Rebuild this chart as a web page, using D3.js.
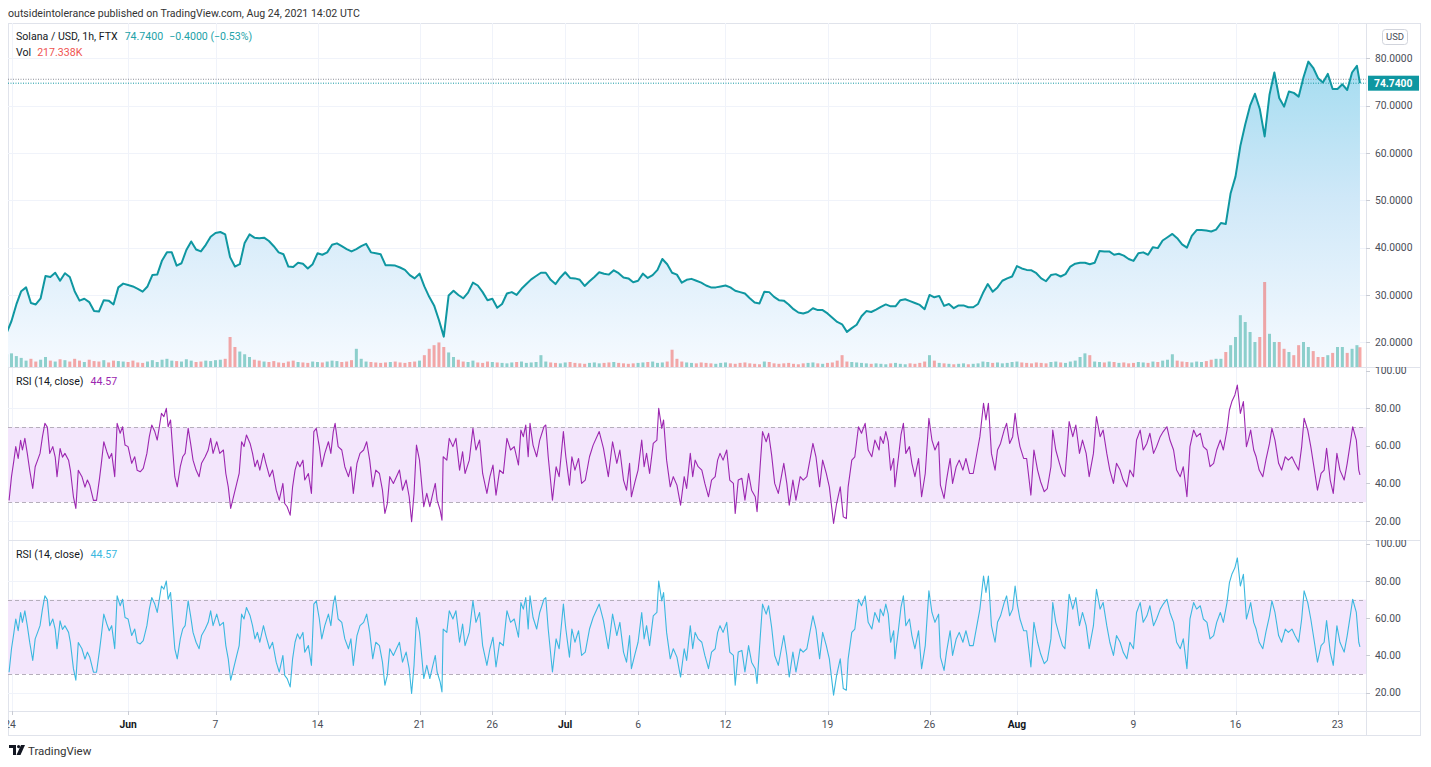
<!DOCTYPE html>
<html><head><meta charset="utf-8">
<script src="https://cdn.jsdelivr.net/npm/d3@7"></script>
<style>
html,body{margin:0;padding:0;background:#fff;}
svg{display:block;font-family:Roboto,"Liberation Sans",Arial,sans-serif;}
</style></head><body>
<svg id="chart" width="1431" height="767"></svg>
<script>
// ---------- DATA ----------
const priceStart = "2021-05-23T16:00:00Z";   // first 8-hour sample
const priceStepHours = 8;
const priceValues = [
 22,24.5,28,30.8,31.6,28.3,28,29.3,34,33.8,
 34.7,33,34.6,33.8,30.8,28.8,29.2,28.5,26.6,26.5,
 28.9,28.8,28,31.6,32.4,32.1,31.8,31.3,30.7,31.8,
 34.2,34.3,37.3,39,39,36.2,36.7,39.5,41.3,39.6,
 39.2,40.6,42.3,43.1,43.3,42.8,38,36,36.5,41,
 42.8,42.1,42,42.1,41.4,40.3,39,38.6,36,35.9,
 36.8,36.6,35.6,36.5,38.8,38.5,39,40.6,40.9,40.3,
 39.7,39.2,39.7,40.3,40.8,39,38.8,38.6,36.3,36.3,
 36.2,35.8,35.3,34.2,33.5,34.5,31.8,29.6,27.8,24.7,
 21.2,29.9,30.9,30,29.3,30.5,32.6,32,30.6,28.9,
 29.2,27.3,28.1,30.3,30.6,30,31.3,32.3,33.3,34,
 34.7,34.7,33.2,32.3,33.7,34.8,33.6,33.5,33.2,31.9,
 32.9,33.8,34.8,34.5,34.3,35.2,34.6,33.7,33.5,32.7,
 33,34.5,33.6,34.2,35.3,37.6,36.5,34.7,34.3,32.6,
 33.2,33.4,33,32.6,32,31.6,31.6,31.8,32,31.6,
 30.9,30.6,30.3,29.3,28.4,28.2,30.7,30.6,29.6,28.9,
 28.8,28,27,26.3,26.1,26.4,27.2,26.8,26.8,26.1,
 25.2,24.3,23.8,22.2,23,23.7,25.5,26.6,26.4,26.9,
 27.5,28,27.6,27.6,28.9,29.1,28.7,28.3,27.9,27,
 30,29.5,29.8,27.7,28.1,27.2,27.8,27.8,27.4,27.4,
 28.1,30.4,32.3,30.7,31.6,33,33.5,33.9,36.1,35.6,
 35.3,35.2,34.6,33.5,32.9,34.2,34.4,33.9,34.4,36,
 36.6,36.8,36.8,36.5,36.8,39.3,39.2,39.2,38.5,38.7,
 38.3,37.6,37.2,38.8,39,38.5,40.1,39.9,41.5,42.2,
 42.9,42,40.7,40,42.5,43.7,43.7,43.6,43.4,43.8,
 45.2,45,51.5,55,61.5,66,70,72.5,69.3,63.5,
 72.3,77,71.6,69.8,73,72.7,71.9,76,79.3,78,
 75.8,74.9,76.7,73.5,73.5,74.5,73.3,77,78.4
];
const volumeValues = [ // thousands, one per 8-hour sample
 140,150,120,100,
 70,90,60,80,110,70,60,85,75,60,90,70,55,80,65,60,75,50,70,65,
 60,55,70,50,45,60,75,55,80,90,70,65,60,85,70,55,60,70,65,75,80,90,
 330,220,170,140,110,
 80,70,60,55,65,50,45,60,70,55,50,45,60,55,50,60,70,65,55,60,75,200,90,60,55,50,45,50,55,60,50,45,55,60,70,
 130,200,240,270,220,160,110,
 80,60,55,70,50,45,60,55,50,45,40,50,55,60,45,50,55,130,60,50,45,40,50,55,45,40,35,45,50,40,45,50,55,45,40,35,40,45,50,55,60,45,50,60,
 190,90,
 60,50,45,40,50,45,40,35,45,50,
 40,35,45,50,40,35,30,60,55,40,
 35,40,45,35,30,40,45,50,40,35,
 45,50,70,130,60,55,50,45,40,35,
 40,35,30,40,45,35,30,40,35,45,
 60,130,70,45,40,35,30,35,40,30,
 35,40,60,55,45,50,40,45,55,60,
 50,45,40,50,45,40,55,60,50,45,
 60,70,110,150,130,60,55,50,60,55,
 45,50,40,45,55,50,45,60,55,70,
 80,140,70,60,55,50,60,55,65,80,90,
 90,165,240,330,570,495,385,275,330,935,365,275,275,200,165,130,240,275,220,175,110,110,130,155,220,220,155,200,240
];
const lastBarTime = "2021-08-24T13:00:00Z";
const lastPrice = 74.74;
const lastVolume = 217.338;
const refLinePrice = 75.57;   // grey dotted reference line

const rsiStart = "2021-05-24T00:00:00Z";   // hour 0
const rsiHours = [
 -4,0,4,7,11,15,18,22,26,30,
 35,39,43,47,51,55,59,63,68,72,
 75,80,84,88,94,97,102,106,110,116,
 121,125,129,135,140,145,148,152,157,161,
 165,170,174,179,183,187,192,198,203,207,
 212,217,223,227,231,236,240,244,247,251,
 255,258,262,266,269,273,278,282,286,291,
 295,299,304,309,313,319,324,328,332,338,
 343,349,353,357,361,365,371,375,379,383,
 387,393,397,401,405,409,415,419,425,430,
 436,441,447,450,454,459,463,467,471,475,
 480,483,489,494,498,502,507,511,516,522,
 526,530,533,538,544,549,555,559,563,569,
 574,580,585,590,595,600,606,611,615,619,
 623,629,634,639,644,650,655,659,663,667,
 672,676,679,684,689,694,698,701,706,709,
 711,717,721,727,732,738,743,747,754,760,
 765,771,776,783,788,793,798,804,810,816,
 822,828,835,839,843,847,851,854,859,865,
 870,877,880,884,891,897,902,909,913,919,
 923,928,934,939,945,952,958,968,975,983,
 990,997,1002,1008,1013,1018,1021,1027,1032,1038,
 1042,1046,1051,1057,1063,1066,1071,1074,1079,1085,
 1090,1096,1102,1108,1112,1118,1122,1126,1131,1137,
 1142,1148,1153,1159,1163,1167,1172,1178,1183,1189,
 1192,1197,1203,1208,1214,1219,1225,1228,1233,1237,
 1243,1247,1252,1257,1263,1268,1272,1277,1281,1287,
 1292,1299,1304,1310,1315,1320,1325,1331,1336,1342,
 1347,1354,1359,1365,1370,1375,1378,1384,1389,1395,
 1400,1406,1411,1417,1422,1429,
 1431,1436,1440,1444,1448,1453,1455,1461,1465,1469,
 1473,1479,1483,1488,1494,1499,1505,1511,1516,1521,
 1527,1530,1536,1540,1546,1550,1556,1561,1567,1572,
 1578,1584,1591,1595,1601,1605,1609,1614,1620,1624,
 1629,1635,1639,1644,1649,1653,1657,1661,1667,1672,
 1679,1684,1690,1695,1701,1706,1712,1715,1720,1726,
 1731,1735,1739,1742,1748,1753,1759,1764,1770,1775,
 1782,1787,1793,1798,1804,1809,1815,1820,1826,1831,
 1837,1842,1848,1853,1859,1864,1870,1875,1881,1886,
 1892,1897,1903,1908,1914,1919,1925,1930,1936,1941,
 1947,1952,1958,1963,1969,1974,1980,1985,1991,1996,
 2002,2006,2010,2015,2019,2024,2029,2034,2037,2041,
 2046,2050,2055,2061,2066,2072,2076,2081,2087,2092,
 2098,2103,2109,2114,2120,2125,2129,2135,2140,2146,
 2151,2157,2162,2166,2172,2177,2183,2188,2195,2200,
 2205,2209,2215,2219,2221
];
const rsiValues = [
 31,43.6,52.4,59.6,53.3,63,57.8,64,56,47,
 37.3,48.9,52.4,56,64.9,72,70,56,59.6,54,
 43.6,58.6,54,56,52.4,47,32.9,26.7,47,43.6,
 38,41.8,39,31,31,42.7,50.7,62.2,56.9,53.3,
 56,43.6,72,66.7,70.2,60.4,59.6,50.7,54.2,47,
 46.2,48,56,64.9,71.1,67.6,63.1,71.1,77.3,75.6,
 80,70.2,73.8,56,43.6,38.2,48.9,54.2,56,69.3,
 61.3,52.4,47.1,43.6,50.7,54.2,57.8,64,56,62.2,
 56,57.8,45.3,38.2,26.7,32,40,45.3,62.2,59.6,
 65.8,61.3,56,48.9,52.4,47.1,56,50.7,43.6,47.1,
 36.4,31.1,40,29.3,27.6,23.1,38.2,47.1,51.6,48.9,
 52.4,41.8,45.3,34.7,67.6,69.3,59.6,48.9,56,62.2,
 56,67.6,72,59.6,57.8,48.9,43.6,48.9,34.7,50.7,
 56,57.8,62.2,52.4,38.2,47.1,45.3,36.4,24,29.3,
 43.6,40,43.6,47.1,36.4,41.8,32.9,19.6,34.7,60.4,
 52.4,38.2,27.6,34.7,27.6,34.7,40,31.1,25.8,20.4,
 54.2,52.4,64,59.6,64,47.1,56.9,45.3,52.4,69.3,
 57.8,63.1,45.3,34.7,43.6,49.8,33.8,47.1,45.3,64,
 57.8,59.6,49.8,68.4,64.9,71.1,54.2,72,60.4,54.2,
 63.1,70.2,71.1,54.2,31.1,48.9,43.6,67.6,54.2,39.1,
 54.2,47.1,53.3,40,41.8,54.2,60.4,67.6,58.7,43.6,
 62.2,50.7,57.8,41.8,36.4,50.7,32.9,40.9,47.1,63.1,
 48.9,56,45.3,61.3,63.1,80,69.3,73.8,52.4,38.2,
 43.6,39.1,28.4,43.6,37.3,56,43.6,52.4,48.9,47.1,
 40,32.9,41.8,43.6,52.4,56,52.4,57.8,41.8,40,
 24,41.8,42.7,31.1,45.3,36.4,32.9,24.9,48.9,67.6,
 62.2,66.7,55.1,40,34.7,43.6,50.7,40,28.4,41.8,
 31.1,43.6,41.8,43.6,52.4,61.3,54.2,38.2,52.4,45.3,
 38.2,18.7,29.3,38.2,22.2,21.3,38.2,52.4,54.2,70.2,
 66.7,72,57.8,54.2,63.1,57.8,
 64.9,61.3,67.6,62.2,47.1,53.3,38.2,54.2,65.8,72,
 56,59.6,50.7,43.6,53.3,32.9,45.3,74.7,63.1,57.8,
 62.2,39.1,32,41.8,53.3,40,48.9,52.4,47.1,53.3,
 45.3,45.3,57.8,64.9,82.7,73.8,82.7,56,47.1,57.8,
 61.3,68.4,72,61.3,64.9,77.3,66.7,59.6,53.3,53.3,
 33.8,57.8,47.1,40.9,35.6,37.3,48.9,68.4,57.8,50.7,
 45.3,43.6,59.6,72.9,64.9,71.1,56,63.1,56,43.6,
 56,75.6,64.9,68.4,56,47.1,40,50.7,47.1,41.8,
 38.2,47.1,43.6,63.1,68.4,57.8,61.3,66.7,56,59.6,
 64.9,67.6,70.2,63.1,57.8,47.1,43.6,48.9,32.9,59.6,
 68.4,64.9,66.7,59.6,57.8,48.9,50.7,57.8,63.1,57.8,
 68.4,79.1,83.6,87.1,92.4,77.3,83.6,59.6,63.1,68.4,
 57.8,54.2,47.1,43.6,52.4,61.3,69.3,63.1,50.7,47.1,
 54.2,52.4,54.2,50.7,47.1,59.6,74.7,68.4,59.6,47.1,
 36.4,45.3,47.1,58.7,41.8,34.7,56,47.1,41.8,50.7,
 61.3,70.2,63.1,47.1,44.57
];
const rsiLast = 44.57;

const priceTicks = [20,30,40,50,60,70,80];
const rsiTicks = [20,40,60,80,100];
const timeTickDates = ["2021-05-24","2021-06-01","2021-06-07","2021-06-14","2021-06-21","2021-06-26","2021-07-01","2021-07-06","2021-07-12","2021-07-19","2021-07-26","2021-08-01","2021-08-09","2021-08-16","2021-08-23"];
const timeTickLabels = ["24","Jun","7","14","21","26","Jul","6","12","19","26","Aug","9","16","23"];
const monthLabels = ["Jun","Jul","Aug"];

// ---------- LAYOUT ----------
const FL = 8, FR = 1421, FT = 23, FB = 736, AX = 1366;
const P = {top: 23, bot: 367}, R1 = {top: 367, bot: 540}, R2 = {top: 540, bot: 711};
const FS = 10.6, AFS = 10.3;
const svg = d3.select("#chart");
const C = {grid:"#f0f3fa", sep:"#e0e3eb", text:"#131722", axisText:"#4a4d57",
  line:"#0f97a1", rsi1:"#9c27b0", rsi2:"#3bb8df", band:"#f3e6fc", bandLine:"#b5aebb",
  up:"rgba(38,166,154,0.5)", down:"rgba(239,83,80,0.5)", teal:"#22a2a8", red:"#ef5350"};

const x = d3.scaleUtc()
  .domain([new Date("2021-05-24T00:00:00Z"), new Date("2021-08-23T00:00:00Z")])
  .range([11.5, 1337.5]);
const yP = d3.scaleLinear().domain([20, 80]).range([342.3, 58.3]);
const yV = d3.scaleLinear().domain([0, 1100]).range([367, 267]);
const yR1 = d3.scaleLinear().domain([20, 80]).range([521, 408.3]);
const yR2 = d3.scaleLinear().domain([20, 80]).range([692.7, 581]);

// data objects
const t0 = new Date(priceStart).getTime();
const n = Math.min(priceValues.length, volumeValues.length);
const priceData = [];
for (let i = 0; i < n; i++) priceData.push({t: new Date(t0 + i*priceStepHours*3600e3), v: priceValues[i], vol: volumeValues[i]});
priceData.push({t: new Date(lastBarTime), v: lastPrice, vol: lastVolume});
priceData.forEach((d,i) => d.up = i === 0 ? true : d.v >= priceData[i-1].v);
const r0 = new Date(rsiStart).getTime();
const m = Math.min(rsiHours.length, rsiValues.length);
const rsiData = [];
for (let i = 0; i < m; i++) rsiData.push({t: new Date(r0 + rsiHours[i]*3600e3), v: rsiValues[i]});

// defs
const defs = svg.append("defs");
[["clipP",P],["clipR1",R1],["clipR2",R2]].forEach(([id,p]) => {
  defs.append("clipPath").attr("id", id).append("rect")
    .attr("x", FL).attr("y", p.top).attr("width", AX-FL).attr("height", p.bot-p.top);
});
defs.append("clipPath").attr("id","clipAxis").append("rect").attr("x",FL).attr("y",711).attr("width",AX-FL).attr("height",25);
defs.append("clipPath").attr("id","clipRAx1").append("rect").attr("x",AX).attr("y",R1.top).attr("width",FR-AX).attr("height",R1.bot-R1.top);
defs.append("clipPath").attr("id","clipRAx2").append("rect").attr("x",AX).attr("y",R2.top).attr("width",FR-AX).attr("height",R2.bot-R2.top);
const grad = defs.append("linearGradient").attr("id","areaGrad")
  .attr("gradientUnits","userSpaceOnUse").attr("x1",0).attr("x2",0).attr("y1",yP(80)).attr("y2",P.bot);
grad.append("stop").attr("offset","0%").attr("stop-color","#a3dcf0");
grad.append("stop").attr("offset","45%").attr("stop-color","#cfe8f8");
grad.append("stop").attr("offset","100%").attr("stop-color","#f6faff");

// ---------- header ----------
svg.append("text").attr("x", 8).attr("y", 17).attr("font-size", FS).attr("fill", "#333")
  .text("outsideintolerance published on TradingView.com, Aug 24, 2021 14:02 UTC");

// frame
svg.append("rect").attr("x", FL+0.5).attr("y", FT+0.5).attr("width", FR-FL-1).attr("height", FB-FT-1)
  .attr("fill","none").attr("stroke", C.sep);

// ---------- grid ----------
const tickDates = timeTickDates.map(s => new Date(s + "T00:00:00Z"));
const gGrid = svg.append("g");
[P, R1, R2].forEach(p => {
  gGrid.selectAll(null).data(tickDates).join("line")
    .attr("x1", d => Math.round(x(d))+0.5).attr("x2", d => Math.round(x(d))+0.5)
    .attr("y1", p.top).attr("y2", p.bot).attr("stroke", C.grid);
});
gGrid.selectAll(null).data(priceTicks).join("line")
  .attr("x1", FL).attr("x2", AX).attr("y1", d => Math.round(yP(d))+0.5).attr("y2", d => Math.round(yP(d))+0.5)
  .attr("stroke", C.grid);
[[R1,yR1],[R2,yR2]].forEach(([p,ys]) => {
  gGrid.selectAll(null).data([20,40,60,80]).join("line")
    .attr("x1", FL).attr("x2", AX).attr("y1", d => Math.round(ys(d))+0.5).attr("y2", d => Math.round(ys(d))+0.5)
    .attr("stroke", C.grid);
});

// ---------- price pane ----------
const gP = svg.append("g").attr("clip-path","url(#clipP)");
const area = d3.area().x(d => x(d.t)).y0(P.bot).y1(d => yP(d.v)).curve(d3.curveLinear);
gP.append("path").datum(priceData).attr("d", area).attr("fill","url(#areaGrad)");
gP.selectAll("rect.vol").data(priceData).join("rect").attr("class","vol")
  .attr("x", d => x(d.t) - 1.5).attr("width", 3)
  .attr("y", d => yV(d.vol)).attr("height", d => P.bot - yV(d.vol))
  .attr("fill", d => d.up ? C.up : C.down);
gP.append("line").attr("x1",FL).attr("x2",AX).attr("y1",yP(refLinePrice)).attr("y2",yP(refLinePrice))
  .attr("stroke","#8a8d96").attr("stroke-dasharray","1,1.5").attr("stroke-width",1);
gP.append("line").attr("x1",FL).attr("x2",AX).attr("y1",yP(lastPrice)).attr("y2",yP(lastPrice))
  .attr("stroke",C.line).attr("stroke-dasharray","1,1.5").attr("stroke-width",1);
const line = d3.line().x(d => x(d.t)).y(d => yP(d.v));
gP.append("path").datum(priceData).attr("d", line).attr("fill","none")
  .attr("stroke", C.line).attr("stroke-width", 2).attr("stroke-linejoin","round");

// legend
const lg = svg.append("text").attr("x", 16).attr("y", 39.5).attr("font-size", FS).attr("fill", C.text);
lg.append("tspan").text("Solana / USD, 1h, FTX");
lg.append("tspan").attr("dx", 7).attr("fill", C.teal).text("74.7400");
lg.append("tspan").attr("dx", 6).attr("fill", C.teal).text("\u22120.4000 (\u22120.53%)");
const lg2 = svg.append("text").attr("x", 16).attr("y", 55.5).attr("font-size", FS).attr("fill", C.text);
lg2.append("tspan").text("Vol");
lg2.append("tspan").attr("dx", 6).attr("fill", C.red).text("217.338K");

// ---------- RSI panes ----------
function rsiPane(p, ys, clip, color) {
  const g = svg.append("g").attr("clip-path", `url(#${clip})`);
  g.append("rect").attr("x", FL).attr("width", AX-FL).attr("y", ys(70)).attr("height", ys(30)-ys(70)).attr("fill", C.band);
  [70,30].forEach(v => g.append("line").attr("x1",FL).attr("x2",AX).attr("y1",Math.round(ys(v))+0.5).attr("y2",Math.round(ys(v))+0.5)
    .attr("stroke", C.bandLine).attr("stroke-dasharray","4,3"));
  g.append("path").datum(rsiData).attr("d", d3.line().x(d => x(d.t)).y(d => ys(d.v)))
    .attr("fill","none").attr("stroke", color).attr("stroke-width", 1.1).attr("stroke-linejoin","round");
  const t = svg.append("text").attr("x", 16).attr("y", p.top + 17.5).attr("font-size", FS).attr("fill", C.text);
  t.append("tspan").text("RSI (14, close)");
  t.append("tspan").attr("dx", 7).attr("fill", color).text(rsiLast.toFixed(2));
}
rsiPane(R1, yR1, "clipR1", C.rsi1);
rsiPane(R2, yR2, "clipR2", C.rsi2);

// separators
[P.bot, R1.bot, R2.bot].forEach(y => svg.append("line").attr("x1",FL).attr("x2",FR).attr("y1",y+0.5).attr("y2",y+0.5).attr("stroke",C.sep));
svg.append("line").attr("x1",AX+0.5).attr("x2",AX+0.5).attr("y1",FT).attr("y2",FB).attr("stroke",C.sep);

// ---------- right axes ----------
const gA = svg.append("g");
gA.selectAll(null).data(priceTicks).join("line")
  .attr("x1", AX).attr("x2", AX+4).attr("y1", d => Math.round(yP(d))+0.5).attr("y2", d => Math.round(yP(d))+0.5).attr("stroke","#c9ccd4");
gA.selectAll(null).data(priceTicks).join("text")
  .attr("x", AX+9).attr("y", d => yP(d)).attr("dy","0.35em").attr("font-size", AFS).attr("fill", C.axisText)
  .text(d => d.toFixed(4));
[[R1,yR1,"clipRAx1"],[R2,yR2,"clipRAx2"]].forEach(([p,ys,clip]) => {
  const g = gA.append("g").attr("clip-path", `url(#${clip})`);
  g.selectAll(null).data(rsiTicks).join("line")
    .attr("x1", AX).attr("x2", AX+4).attr("y1", d => Math.round(ys(d))+0.5).attr("y2", d => Math.round(ys(d))+0.5).attr("stroke","#c9ccd4");
  g.selectAll(null).data(rsiTicks).join("text")
    .attr("x", AX+9).attr("y", d => ys(d)).attr("dy","0.35em").attr("font-size", AFS).attr("fill", C.axisText)
    .text(d => d.toFixed(2));
});
// USD box
gA.append("rect").attr("x", 1382.5).attr("y", 29.5).attr("width", 25).attr("height", 15).attr("rx", 3)
  .attr("fill","#fff").attr("stroke","#d1d4dc");
gA.append("text").attr("x", 1395).attr("y", 37).attr("dy","0.35em").attr("text-anchor","middle")
  .attr("font-size", 9.5).attr("fill", C.axisText).text("USD");
// last price label
gA.append("rect").attr("x", AX+2).attr("y", yP(lastPrice)-7.5).attr("width", 51).attr("height", 15).attr("fill", "#0f97a1");
gA.append("text").attr("x", AX+8).attr("y", yP(lastPrice)).attr("dy","0.35em").attr("font-size", AFS)
  .attr("font-weight", 700).attr("fill","#fff").text(lastPrice.toFixed(4));

// ---------- time axis ----------
const gT = svg.append("g").attr("clip-path","url(#clipAxis)");
gT.selectAll(null).data(tickDates).join("line")
  .attr("x1", d => Math.round(x(d))+0.5).attr("x2", d => Math.round(x(d))+0.5).attr("y1", 711).attr("y2", 715).attr("stroke","#c9ccd4");
gT.selectAll(null).data(tickDates).join("text")
  .attr("x", (d,i) => x(d) - (i === 0 ? 1.5 : 0)).attr("y", 724).attr("dy","0.35em").attr("text-anchor","middle")
  .attr("font-size", AFS).attr("fill", (d,i) => monthLabels.includes(timeTickLabels[i]) ? C.text : C.axisText)
  .attr("font-weight", (d,i) => monthLabels.includes(timeTickLabels[i]) ? 700 : 400)
  .text((d,i) => timeTickLabels[i]);

// ---------- TradingView mark ----------
const gL = svg.append("g").attr("transform","translate(9,745)");
gL.append("path").attr("d","M0 0H7V10H4V3H0Z").attr("fill","#131722");
gL.append("circle").attr("cx", 9.6).attr("cy", 1.6).attr("r", 1.6).attr("fill","#131722");
gL.append("path").attr("d","M12 0H16L11.5 10H7.5Z").attr("fill","#131722");
svg.append("text").attr("x", 28).attr("y", 755).attr("font-size", 11.5).attr("fill", "#333").text("TradingView");
</script>
</body></html>
